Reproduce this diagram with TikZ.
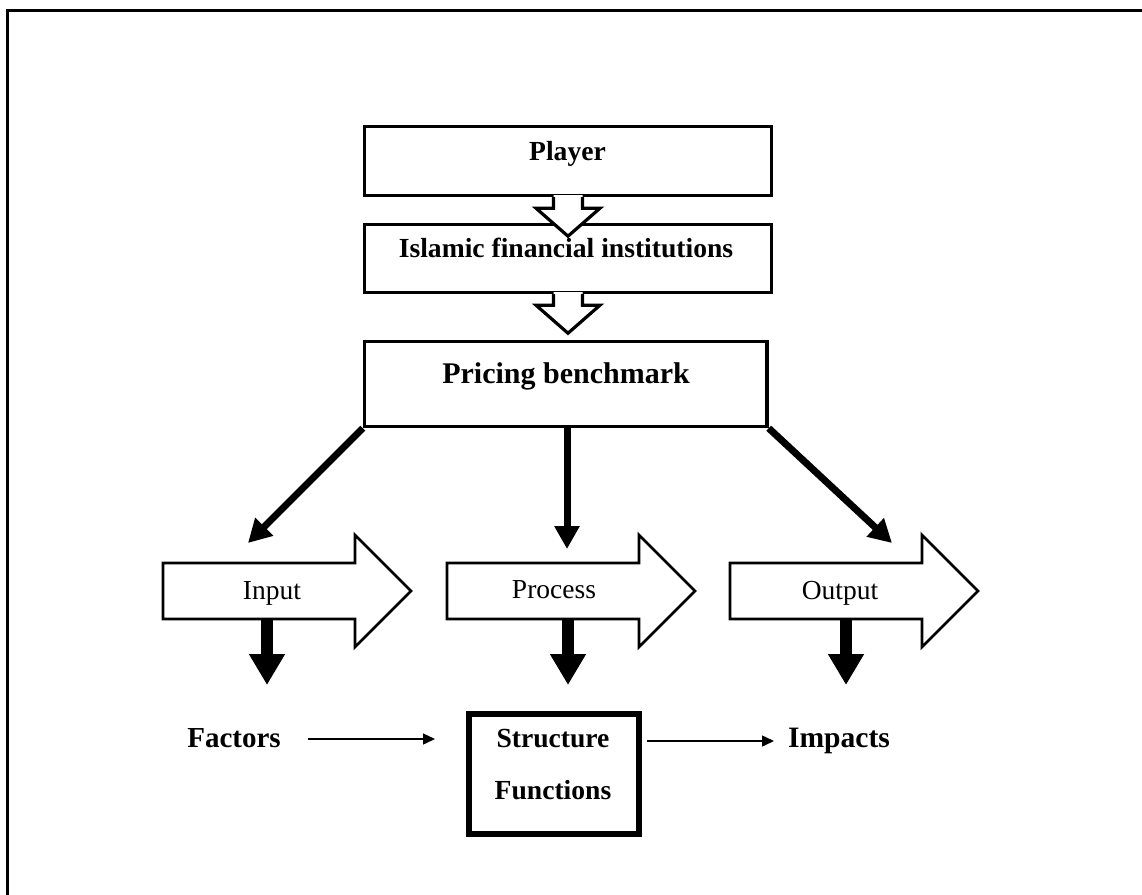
\documentclass[tikz,border=0pt]{standalone}
\usepackage{fontspec}
\setmainfont{Liberation Serif}
\usetikzlibrary{arrows.meta,calc}
\begin{document}
\begin{tikzpicture}[x=1pt,y=-1pt,
  box/.style={draw, line width=3.4pt, inner sep=0pt},
  lbl/.style={anchor=base, inner sep=0pt, font=\bfseries\fontsize{27.6}{30}\selectfont},
  rlbl/.style={anchor=base, inner sep=0pt, font=\fontsize{27.5}{30}\selectfont},
  diag/.style={line width=7pt, -{Triangle[width=24pt,length=23pt]}},
  downarr/.style={line width=12pt, -{Triangle[width=34pt,length=31pt]}},
  thinarr/.style={line width=1.4pt, -{Triangle[width=11pt,length=12pt]}},
  hollowdown/.pic={
    \fill[white] (-14.5,-2) -- (-14.5,11) -- (-32,11) -- (0,39) -- (32,11) -- (14.5,11) -- (14.5,-2) -- cycle;
    \draw[line width=3.2pt, line join=miter] (-14.5,0) -- (-14.5,11) -- (-32,11) -- (0,39) -- (32,11) -- (14.5,11) -- (14.5,0);
  },
  blockarr/.pic={
    \draw[line width=2.7pt, fill=white, line join=miter] (0,-28) -- (192,-28) -- (192,-56) -- (248,0) -- (192,56) -- (192,28) -- (0,28) -- cycle;
  }]
\useasboundingbox (0,0) rectangle (1142,894);
\clip (0,0) rectangle (1142,894);
% frame
\draw[line width=3pt] (7,10) rectangle (1200,950);

% top boxes
\node[box, minimum width=407pt, minimum height=69pt] (player) at (568,161) {};
\node[box, minimum width=407pt, minimum height=68pt] (islamic) at (568,258.5) {};
\node[box, minimum width=402.5pt, minimum height=85pt] (pricing) at (565.75,384) {};

\pic (h1) at (player.south) {hollowdown};
\pic (h2) at (islamic.south) {hollowdown};

\node[lbl] (playerT) at (567.5,160) {Player};
\node[lbl] (islamicT) at (566,257) {Islamic financial institutions};
\node[lbl, font=\bfseries\fontsize{30}{32}\selectfont] (pricingT) at (566,383) {Pricing benchmark};

% block arrows
\pic (inArr) at (163,591) {blockarr};
\pic (procArr) at (447,591) {blockarr};
\pic (outArr) at (730,591) {blockarr};

\node[rlbl] (inputT) at (272,599) {Input};
\node[rlbl] (processT) at (554,598) {Process};
\node[rlbl] (outputT) at (840,599) {Output};

% diagonal arrows
\coordinate (inTip) at (248,543);
\coordinate (procTip) at (567,549);
\coordinate (outTip) at (892,543);
\coordinate (procTop) at (567,426.5);
\draw[diag] (pricing.south west) -- (inTip);
\draw[diag] (procTop) -- (procTip);
\draw[diag] (pricing.south east) -- (outTip);

% down arrows
\coordinate (d1a) at (267,619); \coordinate (d1b) at (267,685);
\coordinate (d2a) at (568,619); \coordinate (d2b) at (568,685);
\coordinate (d3a) at (846,619); \coordinate (d3b) at (846,685);
\draw[downarr] (d1a) -- (d1b);
\draw[downarr] (d2a) -- (d2b);
\draw[downarr] (d3a) -- (d3b);

% bottom row
\node[draw, line width=5.7pt, minimum width=170.3pt, minimum height=120.3pt, inner sep=0pt] (struct) at (554,774) {};
\node[lbl] (structT) at (553,747) {Structure};
\node[lbl] (funcT) at (553,799) {Functions};
\node[lbl, font=\bfseries\fontsize{29}{31}\selectfont] (factors) at (234,747) {Factors};
\node[lbl, font=\bfseries\fontsize{29.6}{31}\selectfont] (impacts) at (839,747) {Impacts};

\coordinate (fA) at (308,739); \coordinate (fB) at (435,739);
\coordinate (iA) at (647,741); \coordinate (iB) at (774,741);
\draw[thinarr] (fA) -- (fB);
\draw[thinarr] (iA) -- (iB);
\end{tikzpicture}
\end{document}
